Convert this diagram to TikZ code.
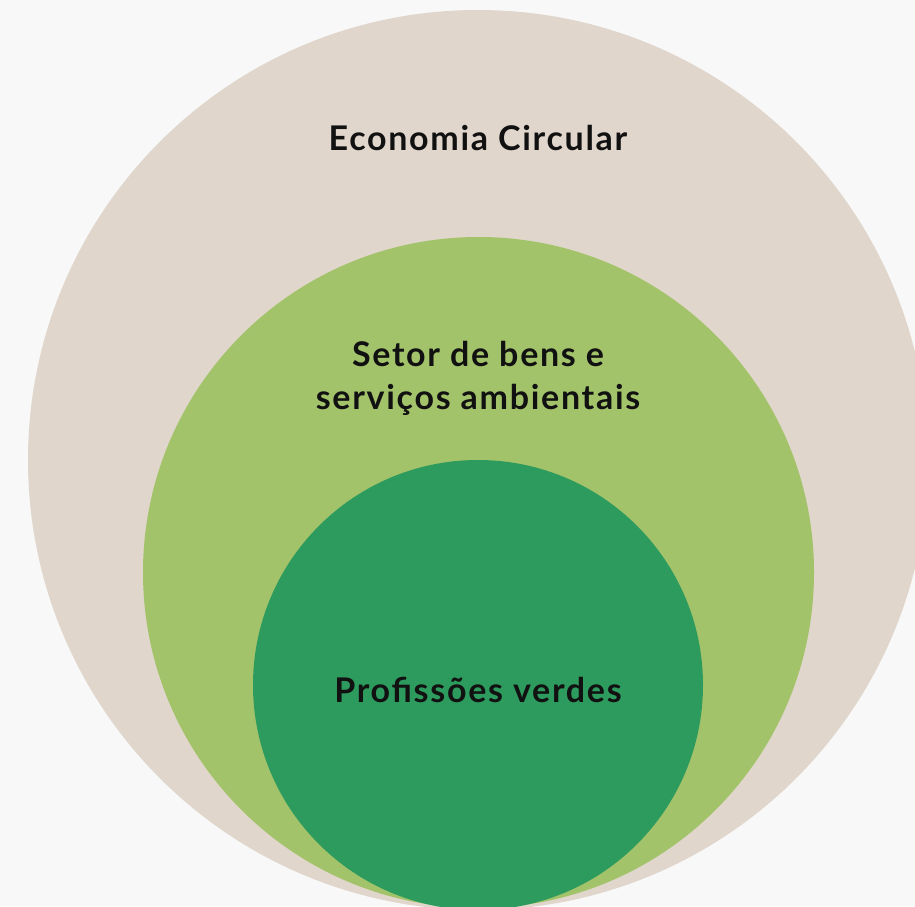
\documentclass[tikz,border=0pt]{standalone}
\usepackage{fontspec}
\setmainfont[LetterSpace=5]{Lato}
\usepackage{tikz}
\usetikzlibrary{positioning}
\definecolor{bgpage}{HTML}{F8F8F9}
\definecolor{sand}{HTML}{E0D6CB}
\definecolor{leaf}{HTML}{A3C36A}
\definecolor{forest}{HTML}{2E9B5E}
\definecolor{ink}{HTML}{111111}
\tikzset{
  ring/.style={circle, draw=none, inner sep=0pt},
  tag/.style={font=\fontsize{34}{43}\selectfont\bfseries, text=ink, align=center, inner sep=0pt},
}

\begin{document}
\begin{tikzpicture}[x=1pt, y=1pt]
  \useasboundingbox (0,0) rectangle (915,906);
  \clip (0,0) rectangle (915,906);
  \fill[bgpage] (0,0) rectangle (915,906);
  % nested circles
  \node[ring, fill=sand, minimum size=900pt] (eco) at (478,446) {};
  \node[ring, fill=leaf, minimum size=671pt] (setor) at (478.5,333.5) {};
  \node[ring, fill=forest, minimum size=450pt] (verde) at (478,221) {};
  % labels
  \node[tag] (ecolbl) at (478,768) {Economia Circular};
  \node[tag] (setorlbl) at (478,528) {Setor de bens e\\serviços ambientais};
  \node[tag] (verdelbl) at (478,216) {Profissões verdes};
\end{tikzpicture}
\end{document}
